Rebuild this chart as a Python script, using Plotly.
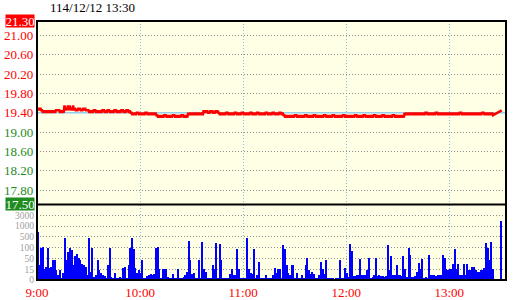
import plotly.graph_objects as go
import numpy as np

# ---------------- data ----------------
title_text = "114/12/12 13:30"
ref_price = 19.40
limit_up = 21.30
limit_down = 17.50
price_grid = [21.00, 20.60, 20.20, 19.80, 19.00, 18.60, 18.20, 17.80]
price_labels = ["21.30", "21.00", "20.60", "20.20", "19.80", "19.40",
                "19.00", "18.60", "18.20", "17.80", "17.50"]
price_label_vals = [21.30, 21.00, 20.60, 20.20, 19.80, 19.40,
                    19.00, 18.60, 18.20, 17.80, 17.50]

time_tick_vals = [0, 60, 120, 180, 240]
time_tick_labels = ["9:00", "10:00", "11:00", "12:00", "13:00"]

vol_levels = [0, 15, 50, 100, 500, 1000, 3000, 5000]
vol_level_labels = ["0", "15", "50", "100", "500", "1000", "3000"]

# minutes after 9:00 with trades (13:25-13:30 closing auction gap)
price_minutes = list(range(0, 266)) + [270]

price_hi = [
    19.50, 19.50, 19.50, 19.45, 19.45, 19.45, 19.45, 19.45, 19.45, 19.45,
    19.45, 19.45, 19.45, 19.45, 19.45, 19.45, 19.55, 19.50, 19.55, 19.55,
    19.50, 19.55, 19.50, 19.45, 19.50, 19.50, 19.45, 19.50, 19.50, 19.45,
    19.45, 19.45, 19.45, 19.45, 19.45, 19.45, 19.45, 19.45, 19.45, 19.45,
    19.45, 19.45, 19.45, 19.45, 19.45, 19.45, 19.45, 19.45, 19.45, 19.45,
    19.45, 19.45, 19.45, 19.45, 19.45, 19.40, 19.40, 19.40, 19.40, 19.40,
    19.40, 19.40, 19.40, 19.40, 19.40, 19.40, 19.40, 19.40, 19.40, 19.40,
    19.35, 19.35, 19.35, 19.35, 19.35, 19.35, 19.35, 19.35, 19.35, 19.35,
    19.35, 19.35, 19.35, 19.35, 19.35, 19.35, 19.35, 19.35, 19.40, 19.40,
    19.40, 19.40, 19.40, 19.40, 19.40, 19.40, 19.40, 19.45, 19.45, 19.45,
    19.40, 19.45, 19.45, 19.40, 19.45, 19.45, 19.40, 19.40, 19.40, 19.40,
    19.40, 19.40, 19.40, 19.40, 19.40, 19.40, 19.40, 19.40, 19.40, 19.40,
    19.40, 19.40, 19.40, 19.40, 19.40, 19.40, 19.40, 19.40, 19.40, 19.40,
    19.40, 19.40, 19.40, 19.40, 19.40, 19.40, 19.40, 19.40, 19.40, 19.40,
    19.40, 19.40, 19.40, 19.40, 19.35, 19.35, 19.35, 19.35, 19.35, 19.35,
    19.35, 19.35, 19.35, 19.35, 19.35, 19.35, 19.35, 19.35, 19.35, 19.35,
    19.35, 19.35, 19.35, 19.35, 19.35, 19.35, 19.35, 19.35, 19.35, 19.35,
    19.35, 19.35, 19.35, 19.35, 19.35, 19.35, 19.35, 19.35, 19.35, 19.35,
    19.35, 19.35, 19.35, 19.35, 19.35, 19.35, 19.35, 19.35, 19.35, 19.35,
    19.35, 19.35, 19.35, 19.35, 19.35, 19.35, 19.35, 19.35, 19.35, 19.35,
    19.35, 19.35, 19.35, 19.35, 19.35, 19.35, 19.35, 19.35, 19.35, 19.35,
    19.35, 19.35, 19.35, 19.35, 19.40, 19.40, 19.40, 19.40, 19.40, 19.40,
    19.40, 19.40, 19.40, 19.40, 19.40, 19.40, 19.40, 19.40, 19.40, 19.40,
    19.40, 19.40, 19.40, 19.40, 19.40, 19.40, 19.40, 19.40, 19.40, 19.40,
    19.40, 19.40, 19.40, 19.40, 19.40, 19.40, 19.40, 19.40, 19.40, 19.40,
    19.40, 19.40, 19.40, 19.40, 19.40, 19.40, 19.40, 19.40, 19.40, 19.40,
    19.40, 19.40, 19.40, 19.40, 19.40, 19.40,
    19.45,
]

price_lo = [
    19.45, 19.45, 19.45, 19.40, 19.40, 19.40, 19.40, 19.40, 19.40, 19.40,
    19.40, 19.45, 19.45, 19.40, 19.40, 19.40, 19.45, 19.45, 19.45, 19.45,
    19.45, 19.45, 19.45, 19.45, 19.45, 19.45, 19.45, 19.45, 19.45, 19.45,
    19.40, 19.40, 19.40, 19.45, 19.40, 19.40, 19.40, 19.40, 19.45, 19.40,
    19.40, 19.45, 19.40, 19.40, 19.40, 19.45, 19.40, 19.40, 19.40, 19.45,
    19.40, 19.40, 19.45, 19.40, 19.40, 19.35, 19.35, 19.35, 19.40, 19.35,
    19.35, 19.35, 19.35, 19.40, 19.35, 19.35, 19.35, 19.35, 19.35, 19.35,
    19.30, 19.30, 19.30, 19.30, 19.35, 19.30, 19.30, 19.30, 19.30, 19.35,
    19.30, 19.30, 19.30, 19.30, 19.35, 19.30, 19.30, 19.30, 19.35, 19.35,
    19.35, 19.35, 19.35, 19.35, 19.35, 19.35, 19.35, 19.40, 19.40, 19.40,
    19.40, 19.40, 19.40, 19.40, 19.40, 19.40, 19.35, 19.35, 19.35, 19.35,
    19.40, 19.35, 19.35, 19.35, 19.35, 19.40, 19.35, 19.35, 19.35, 19.40,
    19.35, 19.35, 19.35, 19.35, 19.40, 19.35, 19.35, 19.35, 19.40, 19.35,
    19.35, 19.35, 19.35, 19.40, 19.35, 19.35, 19.35, 19.40, 19.35, 19.35,
    19.35, 19.40, 19.35, 19.35, 19.30, 19.30, 19.30, 19.30, 19.30, 19.30,
    19.35, 19.30, 19.30, 19.30, 19.30, 19.30, 19.35, 19.30, 19.30, 19.30,
    19.30, 19.35, 19.30, 19.30, 19.30, 19.30, 19.30, 19.35, 19.30, 19.30,
    19.30, 19.30, 19.35, 19.30, 19.30, 19.30, 19.30, 19.30, 19.35, 19.30,
    19.30, 19.30, 19.30, 19.30, 19.30, 19.35, 19.30, 19.30, 19.30, 19.30,
    19.35, 19.30, 19.30, 19.30, 19.30, 19.30, 19.35, 19.30, 19.30, 19.30,
    19.30, 19.35, 19.30, 19.30, 19.30, 19.30, 19.30, 19.35, 19.30, 19.30,
    19.30, 19.30, 19.30, 19.30, 19.35, 19.35, 19.35, 19.35, 19.35, 19.35,
    19.35, 19.35, 19.35, 19.35, 19.35, 19.35, 19.40, 19.35, 19.35, 19.35,
    19.35, 19.35, 19.40, 19.35, 19.35, 19.35, 19.35, 19.35, 19.35, 19.35,
    19.35, 19.35, 19.35, 19.35, 19.35, 19.35, 19.40, 19.35, 19.35, 19.35,
    19.35, 19.35, 19.35, 19.35, 19.35, 19.35, 19.35, 19.35, 19.35, 19.40,
    19.35, 19.35, 19.35, 19.35, 19.35, 19.35,
    19.45,
]

vol_minutes = list(range(0, 271))
volume = [
    750, 30, 100, 140, 18, 25, 100, 22, 25, 45,
    45, 15, 8, 15, 3, 10, 480, 45, 80, 100,
    90, 30, 65, 73, 55, 45, 35, 30, 25, 8,
    480, 12, 100, 5, 8, 47, 15, 10, 8, 6,
    4, 30, 100, 5, 4, 10, 3, 4, 5, 3,
    20, 25, 4, 30, 100, 480, 95, 20, 10, 15,
    10, 47, 4, 3, 6, 8, 9, 8, 9, 100,
    140, 18, 4, 18, 18, 18, 5, 4, 3, 9,
    4, 3, 18, 4, 3, 5, 8, 12, 380, 47,
    9, 10, 4, 4, 47, 4, 320, 18, 12, 4,
    3, 4, 29, 18, 300, 4, 260, 45, 4, 3,
    4, 4, 9, 18, 8, 8, 95, 18, 4, 3,
    4, 3, 480, 18, 10, 9, 95, 4, 8, 39,
    3, 4, 4, 8, 4, 3, 4, 8, 22, 10,
    18, 18, 4, 200, 95, 29, 10, 8, 29, 29,
    3, 10, 4, 4, 8, 3, 29, 55, 15, 9,
    12, 9, 4, 4, 8, 40, 18, 9, 47, 4,
    3, 3, 4, 2, 4, 3, 47, 3, 4, 22,
    10, 5, 260, 85, 6, 6, 7, 7, 50, 7,
    7, 7, 15, 55, 4, 5, 7, 55, 6, 7,
    6, 6, 5, 6, 230, 15, 65, 7, 7, 29,
    7, 7, 6, 65, 18, 5, 100, 70, 5, 5,
    6, 12, 36, 18, 50, 4, 5, 4, 70, 7,
    7, 7, 6, 7, 7, 7, 70, 55, 18, 15,
    18, 18, 32, 95, 18, 32, 7, 7, 32, 7,
    35, 15, 15, 25, 25, 15, 12, 12, 15, 15,
    22, 300, 100, 47, 340, 18, 0, 0, 0, 0,
    2100,
]

# ---------------- build ----------------
# price drawn as a zig-zag between each minute's high and low
px, py = [], []
for m, h, l in zip(price_minutes, price_hi, price_lo):
    px += [m, m + 0.5]
    py += [h, l]

# volume axis is piecewise linear between the labelled levels
vol_pos = np.interp(volume, vol_levels, list(range(len(vol_levels))))

FONT = "Liberation Serif"
RED = "#FF0000"
GREEN = "#1E8C1E"
BG = "#FFFFE6"
VOL_FRAC = 0.2915

fig = go.Figure()
fig.add_trace(go.Scatter(
    x=px, y=py, mode="lines", xaxis="x", yaxis="y",
    line=dict(color=RED, width=2.5), hoverinfo="skip", showlegend=False))
fig.add_trace(go.Bar(
    x=vol_minutes, y=vol_pos, xaxis="x2", yaxis="y2",
    marker=dict(color="#0000FF", line=dict(width=0)),
    width=0.85, offset=0, showlegend=False, hoverinfo="skip"))

grid_grey = "#8C8C8C"
grid_blue = "#84BEE0"

fig.update_layout(
    width=520, height=300,
    margin=dict(l=37, r=14, t=21, b=20, autoexpand=False),
    paper_bgcolor="white", plot_bgcolor=BG,
    font=dict(family=FONT, size=12, color="black"),
    bargap=0,
    xaxis=dict(domain=[0, 1], range=[0, 273], anchor="y", automargin=False,
               tickvals=time_tick_vals, showticklabels=False,
               showgrid=True, gridcolor=grid_blue, griddash="1px,2px",
               gridwidth=1, zeroline=False, showline=False, ticks=""),
    xaxis2=dict(domain=[0, 1], range=[0, 273], anchor="y2", matches="x",
                automargin=False,
                tickvals=time_tick_vals, ticktext=time_tick_labels,
                tickfont=dict(family=FONT, size=13, color=RED),
                ticklabelstandoff=3,
                showgrid=True, gridcolor=grid_blue, griddash="1px,2px",
                gridwidth=1, zeroline=False, showline=False, ticks=""),
    yaxis=dict(domain=[VOL_FRAC, 1], range=[limit_down, limit_up],
               anchor="x", tickvals=price_grid, showticklabels=False,
               automargin=False,
               showgrid=True, gridcolor=grid_grey, griddash="1px,2px",
               gridwidth=1, zeroline=False, showline=False, ticks=""),
    yaxis2=dict(domain=[0, VOL_FRAC], range=[0, len(vol_levels) - 1],
                anchor="x2", tickvals=list(range(len(vol_level_labels))),
                ticktext=vol_level_labels, automargin=False,
                tickfont=dict(family=FONT, size=9.5, color="#A0A0A0"),
                showgrid=True, gridcolor=grid_grey, griddash="1px,2px",
                gridwidth=1, zeroline=False, showline=False, ticks="",
                ticklabelstandoff=2),
)

# reference (previous close) line
fig.add_shape(type="line", xref="paper", yref="y", x0=0, x1=1,
              y0=ref_price, y1=ref_price,
              line=dict(color="#92CEEE", width=1.5), layer="below")
# frame and divider
fig.add_shape(type="rect", xref="paper", yref="paper", x0=0, x1=1, y0=0, y1=1,
              line=dict(color="black", width=2))
fig.add_shape(type="line", xref="paper", yref="paper", x0=0, x1=1,
              y0=VOL_FRAC, y1=VOL_FRAC, line=dict(color="black", width=2))

# price labels
for txt, val in zip(price_labels, price_label_vals):
    col = RED if val >= ref_price else GREEN
    if val == limit_up or val == limit_down:
        fig.add_annotation(xref="paper", yref="y", x=0, y=val, text=txt,
                           xanchor="right", yanchor="middle", showarrow=False,
                           xshift=-2, yshift=(1 if val == limit_down else 0),
                           font=dict(family=FONT, size=13, color="white"),
                           bgcolor=col, borderpad=0, width=28, height=12)
    else:
        fig.add_annotation(xref="paper", yref="y", x=0, y=val, text=txt,
                           xanchor="right", yanchor="middle", showarrow=False,
                           xshift=-2, font=dict(family=FONT, size=13, color=col))

# title
fig.add_annotation(xref="paper", yref="paper", x=(48 - 37) / 469, y=1,
                   yshift=4, text=title_text, showarrow=False,
                   xanchor="left", yanchor="bottom",
                   font=dict(family=FONT, size=13, color="black"))

fig.write_html("out.html")
